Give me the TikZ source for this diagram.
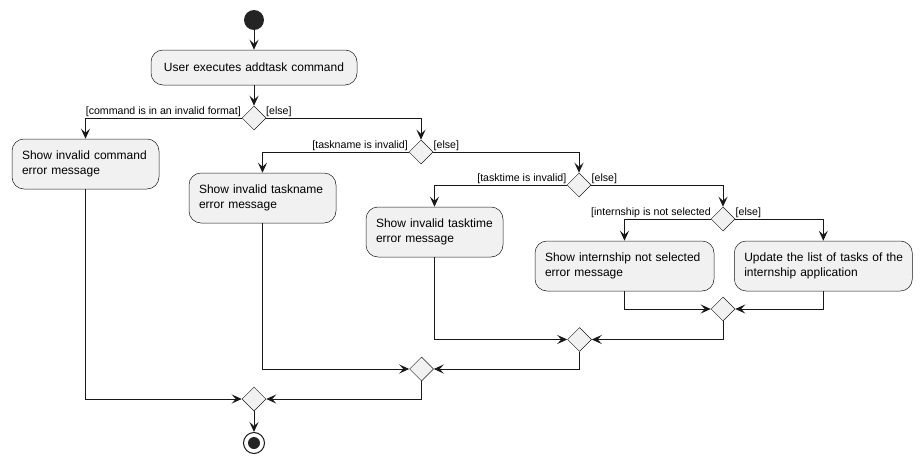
\documentclass[tikz,border=0pt]{standalone}
\usepackage{fontspec}
\setmainfont{Liberation Sans}
\usetikzlibrary{shapes.geometric,arrows.meta}
\definecolor{ln}{HTML}{181818}
\definecolor{bx}{HTML}{F1F1F1}
\tikzset{
  actbox/.style={draw=ln, line width=0.5pt, fill=bx, rounded corners=12pt,
    inner xsep=10pt, inner ysep=0pt, align=left, minimum height=50pt,
    font=\fontsize{12}{15.5}\selectfont},
  dia/.style={draw=ln, line width=0.5pt, fill=bx, diamond, minimum width=24pt, minimum height=24pt, inner sep=0pt},
  arr/.style={draw=ln, line width=1pt, -{Stealth[length=10pt,width=9pt,inset=4pt]}},
  lbl/.style={font=\fontsize{10.6}{13}\selectfont, inner sep=0pt, text=black},
}
\begin{document}
\begin{tikzpicture}[x=1pt,y=-1pt]
\useasboundingbox (0,0) rectangle (922,463);
% start
\node[circle, fill=ln!95, minimum size=20pt, inner sep=0pt] (start) at (254,20) {};
\node[actbox, minimum height=35pt, text width=186pt, align=center] (a0) at (254,67.5) {User executes addtask command};
\node[dia] (d1) at (254,118) {};
\node[actbox, text width=127pt] (b1) at (85.5,164) {\mbox{Show invalid command}\\error message};
\node[dia] (d2) at (421,152) {};
\node[actbox, text width=127pt] (b2) at (262.5,198) {\mbox{Show invalid taskname}\\error message};
\node[dia] (d3) at (579,185) {};
\node[actbox, text width=117pt] (b3) at (434.5,232) {\mbox{Show invalid tasktime}\\error message};
\node[dia] (d4) at (723,219) {};
\node[actbox, text width=159pt] (b4) at (624.5,266) {\mbox{Show internship not selected}\\error message};
\node[actbox, text width=158pt] (b5) at (823.3,266) {\mbox{Update the list of tasks of the}\\internship application};
\node[dia] (m5) at (723,309) {};
\node[dia] (m6) at (579.5,339.5) {};
\node[dia] (m7) at (421.5,369) {};
\node[dia] (m8) at (254,399) {};
\node[circle, draw=ln, line width=1pt, fill=white, minimum size=21pt, inner sep=0pt] (stop) at (254,443) {};
\node[circle, fill=ln!95, minimum size=12pt, inner sep=0pt] at (stop) {};
% labels
\node[lbl, anchor=base east] at (241,114) {[command is in an invalid format]};
\node[lbl, anchor=base west] at (266,114) {[else]};
\node[lbl, anchor=base east] at (408,148) {[taskname is invalid]};
\node[lbl, anchor=base west] at (433.5,148) {[else]};
\node[lbl, anchor=base east] at (566.5,181) {[tasktime is invalid]};
\node[lbl, anchor=base west] at (591.5,181) {[else]};
\node[lbl, anchor=base east] at (711,215) {[internship is not selected};
\node[lbl, anchor=base west] at (735.5,215) {[else]};
% connectors
\draw[arr] (start) -- (a0);
\draw[arr] (a0) -- (d1);
\draw[arr] (d1.west) -| (b1.north);
\draw[arr] (d1.east) -| (d2.north);
\draw[arr] (d2.west) -| (b2.north);
\draw[arr] (d2.east) -| (d3.north);
\draw[arr] (d3.west) -| (b3.north);
\draw[arr] (d3.east) -| (d4.north);
\draw[arr] (d4.west) -| (b4.north);
\draw[arr] (d4.east) -| (b5.north);
\draw[arr] (b4.south) |- (m5.west);
\draw[arr] (b5.south) |- (m5.east);
\draw[arr] (b3.south) |- (m6.west);
\draw[arr] (m5.south) |- (m6.east);
\draw[arr] (b2.south) |- (m7.west);
\draw[arr] (m6.south) |- (m7.east);
\draw[arr] (b1.south) |- (m8.west);
\draw[arr] (m7.south) |- (m8.east);
\draw[arr] (m8) -- (stop);
\end{tikzpicture}
\end{document}
